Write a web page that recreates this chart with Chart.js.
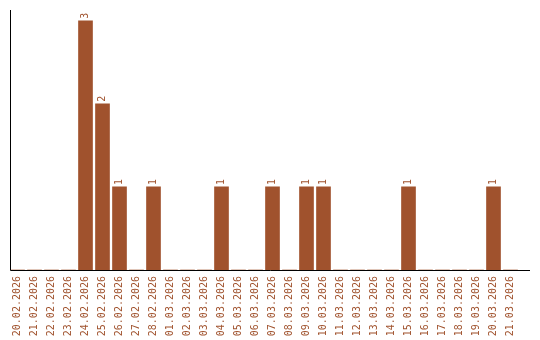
<!DOCTYPE html>
<html>
<head>
<meta charset="utf-8">
<script src="https://cdn.jsdelivr.net/npm/chart.js@4/dist/chart.umd.min.js"></script>
<style>
  html, body { margin: 0; padding: 0; background: #fff; }
  #wrap { width: 540px; height: 340px; }
</style>
</head>
<body>
<div id="wrap"><canvas id="chart"></canvas></div>
<script>
// Daily counts, 20.02.2026 .. 21.03.2026
const days = [
  "20.02.2026", "21.02.2026", "22.02.2026", "23.02.2026", "24.02.2026",
  "25.02.2026", "26.02.2026", "27.02.2026", "28.02.2026", "01.03.2026",
  "02.03.2026", "03.03.2026", "04.03.2026", "05.03.2026", "06.03.2026",
  "07.03.2026", "08.03.2026", "09.03.2026", "10.03.2026", "11.03.2026",
  "12.03.2026", "13.03.2026", "14.03.2026", "15.03.2026", "16.03.2026",
  "17.03.2026", "18.03.2026", "19.03.2026", "20.03.2026", "21.03.2026",
];
const counts = [
  0, 0, 0, 0, 3,
  2, 1, 0, 1, 0,
  0, 0, 1, 0, 0,
  1, 0, 1, 1, 0,
  0, 0, 0, 1, 0,
  0, 0, 0, 1, 0,
];

const BROWN = "#a0522d";
const FONT = { family: "'DejaVu Sans Mono', monospace", size: 10 };

// Vertical value labels above each non-zero bar, plus the axis lines
// (the x axis runs a bit past the last category, as in the original).
const barLabels = {
  id: "barLabels",
  afterDatasetsDraw(chart) {
    const { ctx, chartArea } = chart;
    const axisX = chartArea.left + 1.5;
    ctx.save();
    ctx.strokeStyle = "#000";
    ctx.lineWidth = 1;
    ctx.beginPath();
    ctx.moveTo(axisX, chartArea.top);
    ctx.lineTo(axisX, chartArea.bottom + 0.5);
    ctx.lineTo(chart.width - 10, chartArea.bottom + 0.5);
    ctx.stroke();

    ctx.fillStyle = BROWN;
    ctx.font = `${FONT.size}px ${FONT.family}`;
    ctx.textAlign = "left";
    ctx.textBaseline = "middle";
    chart.getDatasetMeta(0).data.forEach((bar, i) => {
      if (!counts[i]) return;
      ctx.save();
      ctx.translate(bar.x, bar.y - 2);
      ctx.rotate(-Math.PI / 2);
      ctx.fillText(String(counts[i]), 0, 0);
      ctx.restore();
    });
    ctx.restore();
  },
};

new Chart(document.getElementById("chart"), {
  type: "bar",
  data: {
    labels: days,
    datasets: [{
      data: counts,
      backgroundColor: BROWN,
      borderWidth: 0,
      barThickness: 14,
    }],
  },
  options: {
    responsive: true,
    maintainAspectRatio: false,
    animation: false,
    layout: { padding: { left: 9, top: 10, right: 21, bottom: 0 } },
    plugins: { legend: { display: false }, tooltip: { enabled: false } },
    scales: {
      x: {
        grid: { display: false, drawTicks: false },
        border: { display: false },
        ticks: {
          color: BROWN,
          font: FONT,
          minRotation: 90,
          maxRotation: 90,
          autoSkip: false,
          padding: 6,
        },
        afterFit: (s) => { s.height = 70; },
      },
      y: {
        min: 0,
        max: 3.13,
        display: true,
        grid: { display: false, drawTicks: false },
        border: { display: false },
        ticks: { display: false },
        afterFit: (s) => { s.width = 0; },
      },
    },
  },
  plugins: [barLabels],
});
</script>
</body>
</html>
